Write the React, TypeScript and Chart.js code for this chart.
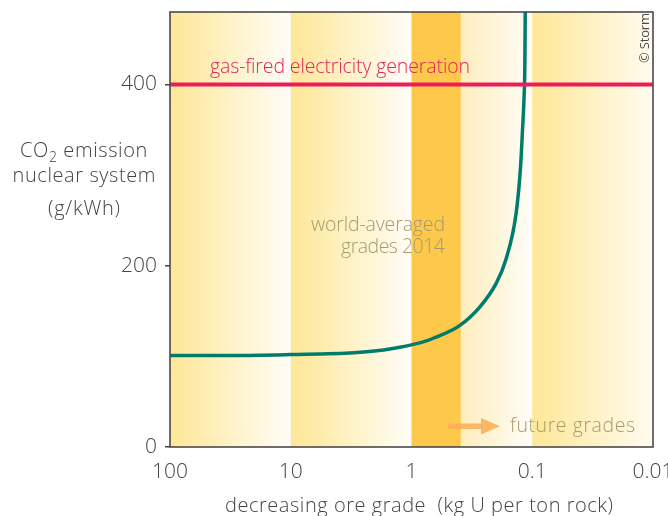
import React, { useEffect, useRef } from "react";
import { Chart, registerables } from "chart.js";

Chart.register(...registerables);

// ---- data ----
const xTickValues = [100, 10, 1, 0.1, 0.01];
const xTickLabels = ["100", "10", "1", "0.1", "0.01"];
const yTickValues = [0, 200, 400];

const oreGrades = [100, 30, 10, 3, 1.7, 1.25, 0.8, 0.66, 0.4, 0.27, 0.2, 0.166, 0.136, 0.125, 0.1205, 0.117, 0.1152, 0.1143];
const co2Emission = [101, 101, 102, 104, 107, 110, 116, 120, 134, 155, 180, 206, 258, 309, 349, 385, 420, 482];

const gasGrades = [100, 0.01];
const gasEmission = [400, 400];

const bandEdges = [100, 10, 1, 0.39, 0.1, 0.01];
const bandColors: [string, string][] = [
  ["#fee797", "#fffdf7"],
  ["#fee797", "#fffdf7"],
  ["#fec84b", "#fec84b"],
  ["#feedbd", "#fffdf7"],
  ["#fee797", "#fffbef"],
];

const FONT = "'Open Sans'";
const TEXT = "#444444";

function fitText(ctx: any, text: string, x: number, y: number, width: number, align: "left" | "right" | "center") {
  ctx.save();
  ctx.letterSpacing = "0px";
  ctx.textAlign = "left";
  const w = ctx.measureText(text).width;
  const n = text.length;
  const ls = n > 1 ? (width - w) / (n - 1) : 0;
  ctx.letterSpacing = `${ls}px`;
  const start = align === "left" ? x : align === "right" ? x - width : x - width / 2;
  ctx.fillText(text, start, y);
  ctx.restore();
}

const bgPlugin = {
  id: "bands",
  beforeDatasetsDraw(chart: any) {
    const { ctx, chartArea } = chart;
    const xs = chart.scales.x;
    ctx.save();
    for (let i = 0; i < bandEdges.length - 1; i++) {
      const x0 = xs.getPixelForValue(bandEdges[i]);
      const x1 = xs.getPixelForValue(bandEdges[i + 1]);
      const g = ctx.createLinearGradient(x0, 0, x1, 0);
      g.addColorStop(0, bandColors[i][0]);
      g.addColorStop(1, bandColors[i][1]);
      ctx.fillStyle = g;
      ctx.fillRect(x0, chartArea.top, x1 - x0, chartArea.bottom - chartArea.top);
    }
    ctx.font = `300 19.5px ${FONT}`;
    ctx.textBaseline = "alphabetic";
    ctx.fillStyle = "#a39c6e";
    fitText(ctx, "world-averaged", 445, 231, 134, "right");
    fitText(ctx, "grades 2014", 445, 253, 104, "right");
    fitText(ctx, "future grades", 510, 432, 125, "left");
    // arrow
    ctx.fillStyle = "rgba(251,176,90,0.9)";
    ctx.fillRect(448, 423.5, 34, 5.5);
    ctx.beginPath();
    ctx.moveTo(481, 418);
    ctx.lineTo(500, 426.2);
    ctx.lineTo(481, 434.5);
    ctx.closePath();
    ctx.fill();
    // copyright
    ctx.save();
    ctx.translate(649, 63);
    ctx.rotate(-Math.PI / 2);
    ctx.font = `400 13px ${FONT}`;
    ctx.fillStyle = "#4a4a4a";
    fitText(ctx, "© Storm", 0, 0, 50, "left");
    ctx.restore();
    ctx.restore();
  },
  afterDatasetsDraw(chart: any) {
    const { ctx, chartArea } = chart;
    ctx.save();
    ctx.strokeStyle = "#4a4a4a";
    ctx.lineWidth = 1.6;
    ctx.strokeRect(chartArea.left, chartArea.top, chartArea.right - chartArea.left, chartArea.bottom - chartArea.top);
    ctx.font = `300 19.5px ${FONT}`;
    ctx.fillStyle = "#e0245e";
    ctx.textBaseline = "alphabetic";
    fitText(ctx, "gas-fired electricity generation", 210, 73, 260, "left");
    ctx.restore();
  },
  afterDraw(chart: any) {
    const { ctx } = chart;
    ctx.save();
    ctx.fillStyle = TEXT;
    ctx.textBaseline = "alphabetic";
    // y title
    const cx = 84;
    ctx.font = `300 20px ${FONT}`;
    ctx.letterSpacing = "0.6px";
    const wCO = ctx.measureText("CO").width;
    const wEm = ctx.measureText(" emission").width;
    ctx.font = `300 14px ${FONT}`;
    const w2 = ctx.measureText("2").width;
    const total = wCO + w2 + wEm;
    const x = cx - total / 2;
    ctx.textAlign = "left";
    ctx.font = `300 20px ${FONT}`;
    ctx.fillText("CO", x, 157);
    ctx.font = `300 14px ${FONT}`;
    ctx.fillText("2", x + wCO, 162);
    ctx.font = `300 20px ${FONT}`;
    ctx.fillText(" emission", x + wCO + w2, 157);
    ctx.letterSpacing = "0px";
    fitText(ctx, "nuclear system", cx, 182, 143, "center");
    fitText(ctx, "(g/kWh)", cx, 215, 72, "center");
    // x title
    fitText(ctx, "decreasing ore grade  (kg U per ton rock)", 225, 512, 388, "left");
    ctx.restore();
  },
};

export default function App() {
  const ref = useRef<HTMLCanvasElement | null>(null);
  useEffect(() => {
    if (!ref.current) return;
    const chart = new Chart(ref.current, {
      type: "line",
      data: {
        datasets: [
          {
            data: gasGrades.map((g, i) => ({ x: g, y: gasEmission[i] })),
            borderColor: "#ee1d5a",
            borderWidth: 4,
            pointRadius: 0,
            clip: 0,
          },
          {
            data: oreGrades.map((g, i) => ({ x: g, y: co2Emission[i] })),
            borderColor: "#007c6c",
            borderWidth: 3.5,
            pointRadius: 0,
            cubicInterpolationMode: "monotone",
            clip: 0,
          },
        ],
      },
      options: {
        responsive: false,
        animation: false,
        events: [],
        layout: { padding: { top: 12, right: 15, left: 0, bottom: 0 } },
        plugins: { legend: { display: false }, tooltip: { enabled: false }, title: { display: false } },
        scales: {
          x: {
            type: "logarithmic",
            reverse: true,
            min: 0.01,
            max: 100,
            afterBuildTicks: (s: any) => {
              s.ticks = xTickValues.map((v) => ({ value: v }));
            },
            afterFit: (s: any) => {
              s.height = 69;
              s.paddingLeft = 0;
              s.paddingRight = 0;
            },
            ticks: {
              autoSkip: false,
              maxRotation: 0,
              padding: 12,
              color: TEXT,
              font: { family: FONT, size: 21, weight: "300" },
              callback: (_v: any, i: number) => xTickLabels[i],
            },
            grid: { display: false, drawTicks: false },
            border: { display: false },
          },
          y: {
            type: "linear",
            min: 0,
            max: 480,
            afterBuildTicks: (s: any) => {
              s.ticks = yTickValues.map((v) => ({ value: v }));
            },
            afterFit: (s: any) => {
              s.width = 170;
              s.paddingTop = 0;
              s.paddingBottom = 0;
            },
            ticks: {
              padding: 8,
              color: TEXT,
              font: { family: FONT, size: 21, weight: "300" },
              callback: (v: any) => String(v),
            },
            grid: { display: true, drawOnChartArea: false, drawTicks: true, tickLength: 5, color: "#444", lineWidth: 1.5 },
            border: { display: false },
          },
        },
      },
      plugins: [bgPlugin],
    } as any);
    return () => chart.destroy();
  }, []);
  return (
    <div style={{ position: "absolute", left: 0, top: 0, width: 668, height: 516, background: "#fff" }}>
      <canvas ref={ref} width={668} height={516} style={{ display: "block" }} />
    </div>
  );
}
